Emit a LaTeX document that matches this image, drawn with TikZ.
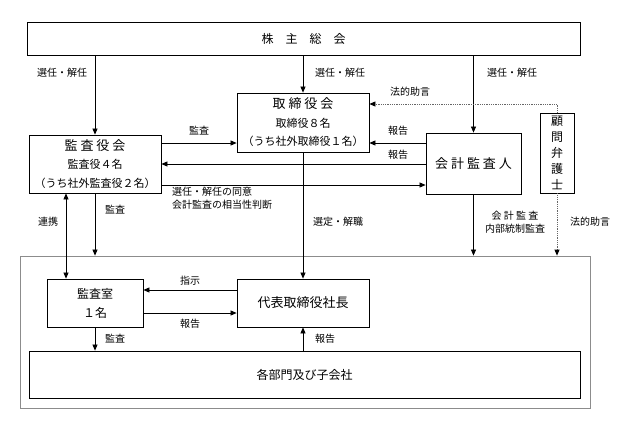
\documentclass[tikz,border=0pt]{standalone}
\usepackage{fontspec}
\setmainfont{Noto Sans CJK JP}
\usetikzlibrary{arrows.meta}

\tikzset{
	box/.style={draw, line width=0.8pt, inner sep=0pt, align=center, font=\fontsize{12}{16}\selectfont},
	lbl/.style={inner sep=1pt, font=\fontsize{10}{12.5}\selectfont},
	arr/.style={-{Triangle[length=6pt,width=5pt]}, line width=0.7pt},
	both/.style={{Triangle[length=6pt,width=5pt]}-{Triangle[length=6pt,width=5pt]}, line width=0.7pt},
	adv/.style={-{Triangle[length=6pt,width=5pt,color=black]}, line width=0.8pt, densely dotted, draw=black!60},
}

\begin{document}
\begin{tikzpicture}[x=1pt, y=-1pt]
\useasboundingbox (0,0) rectangle (626,426);

% boxes
\node[box, minimum width=553, minimum height=33] (soukai) at (303.5,38.5) {株　主　総　会};
\node[box, minimum width=132, minimum height=59, font=\fontsize{11}{18.5}\selectfont] (torishimari) at (303,122.5)
	{{\fontsize{13}{18.5}\selectfont 取 締 役 会}\\取締役８名\\（うち社外取締役１名）};
\node[box, minimum width=132, minimum height=58, font=\fontsize{11}{18.5}\selectfont] (kansayaku) at (95,164)
	{{\fontsize{13}{18.5}\selectfont 監 査 役 会}\\監査役４名\\（うち社外監査役２名）};
\node[box, minimum width=95, minimum height=61, font=\fontsize{13}{16}\selectfont] (kaikei) at (473.5,163.5) {会 計 監 査 人};
\node[box, minimum width=34, minimum height=80] (komon) at (557,153) {顧\\問\\弁\\護\\士};

\node[draw=black!45, line width=0.8pt, minimum width=570, minimum height=152] (group) at (305,332) {};
\node[box, minimum width=96, minimum height=48, font=\fontsize{12}{19}\selectfont] (kansa) at (95,303) {監査室\\１名};
\node[box, minimum width=132, minimum height=48, font=\fontsize{13}{16}\selectfont] (daihyo) at (303,303) {代表取締役社長};
\node[box, minimum width=551, minimum height=47] (bumon) at (304.5,374.5) {各部門及び子会社};

% connectors
\draw[arr] (kansayaku.north |- soukai.south) -- (kansayaku.north);
\draw[arr] (torishimari.north |- soukai.south) -- (torishimari.north);
\draw[arr] (kaikei.north |- soukai.south) -- (kaikei.north);
\draw[adv] (komon.north) |- (torishimari.east |- 0,104);
\draw[arr] (kaikei.west |- 0,143) -- (torishimari.east |- 0,143);
\draw[arr] (kaikei.west |- 0,164) -- (kansayaku.east |- 0,164);
\draw[arr] (kansayaku.east |- 0,185) -- (kaikei.west |- 0,185);
\draw[arr] (kansayaku.east |- 0,143) -- (torishimari.west |- 0,143);
\draw[arr] (torishimari.south) -- (daihyo.north);
\draw[arr] (kansayaku.south) -- (kansayaku.south |- group.north);
\draw[both] (kansayaku.south -| 66,0) -- (kansa.north -| 66,0);
\draw[arr] (kaikei.south) -- (kaikei.south |- group.north);
\draw[adv] (komon.south) -- (komon.south |- group.north);
\draw[arr] (daihyo.west |- 0,290) -- (kansa.east |- 0,290);
\draw[arr] (kansa.east |- 0,313) -- (daihyo.west |- 0,313);
\draw[arr] (kansa.south) -- (kansa.south |- bumon.north);
\draw[arr] (daihyo.south |- bumon.north) -- (daihyo.south);

% labels
\foreach [count=\i] \x/\y/\t in {62/73/選任・解任, 340/73/選任・解任, 512/73/選任・解任,
	410/92/法的助言, 398/131/報告, 398/155/報告, 199/131/監査, 338/222/選定・解職,
	115/210/監査, 48/222/連携, 590/222/法的助言, 190/281/指示, 190/324/報告,
	115/339/監査, 325/339/報告}{
	\node[lbl] (l\i) at (\x,\y) {\t};
}
\node[lbl, anchor=north west, align=left] (doui) at (171,186) {選任・解任の同意\\会計監査の相当性判断};
\node[lbl, align=center] (kaikeilbl) at (515,222) {会 計 監 査\\内部統制監査};

\end{tikzpicture}
\end{document}
